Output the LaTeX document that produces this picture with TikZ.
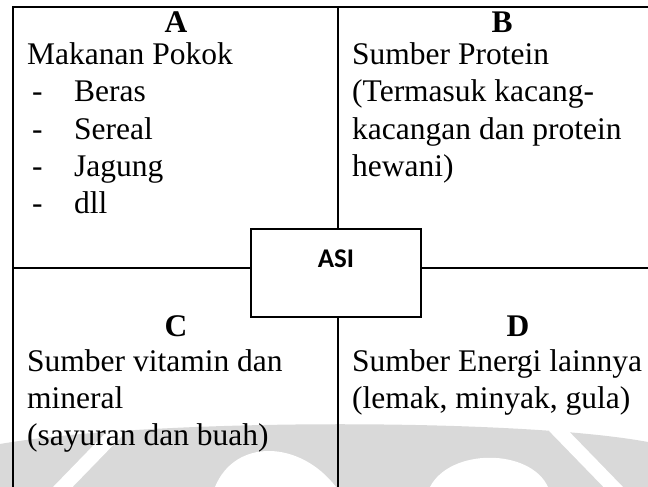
\documentclass[tikz,border=0pt]{standalone}
\usepackage{fontspec}
\setmainfont{Liberation Serif}
\newfontfamily\asifont{Carlito}
\tikzset{
  txt/.style={anchor=base west, inner sep=0pt, font=\fontsize{31.5}{38}\selectfont},
  hdr/.style={anchor=base, inner sep=0pt, font=\fontsize{31.5}{38}\selectfont\bfseries},
  gridline/.style={line width=2pt},
  wm/.style={fill=black!15, draw=none},
  wmcut/.style={fill=white, draw=none},
}
\begin{document}
\begin{tikzpicture}[x=1pt,y=-1pt]
\useasboundingbox (0,0) rectangle (648,487);
% faint watermark
\fill[wm] (0,487) -- (0,444) .. controls (150,418) and (520,418) .. (648,442) -- (648,487) -- cycle;
\draw[white, line width=14pt] (55,495) -- (122,426);
\draw[white, line width=14pt] (621,495) -- (554,426);
\fill[wmcut] (215,487) .. controls (235,438) and (300,440) .. (336,487) -- cycle;
\fill[wmcut] (430,487) .. controls (450,448) and (530,448) .. (548,487) -- cycle;
% frame
\coordinate (tl) at (13,7);
\coordinate (tr) at (648,7);
\coordinate (bl) at (13,487);
\coordinate (vt) at (338,7);
\coordinate (vb) at (338,487);
\coordinate (hl) at (13,268);
\coordinate (hr) at (648,268);
\node[draw, line width=2pt, minimum width=170pt, minimum height=88pt, inner sep=0pt] (asi) at (336,273) {};
\draw[gridline] (bl) -- (tl) -- (tr);
\draw[gridline] (vt) -- (vt |- asi.north);
\draw[gridline] (vb) -- (vb |- asi.south);
\draw[gridline] (hl) -- (asi.west |- hl);
\draw[gridline] (hr) -- (asi.east |- hr);
\node[inner sep=0pt, font=\asifont\bfseries\fontsize{27}{30}\selectfont] (asitxt) at (336,259) {ASI};
% A
\node[hdr] (ha) at (176,33) {A};
\node[txt] (a0) at (27,65) {Makanan Pokok};
\node[txt] (d1) at (32,102) {-};
\node[txt] (a1) at (74,102) {Beras};
\node[txt] (d2) at (32,139) {-};
\node[txt] (a2) at (74,139) {Sereal};
\node[txt] (d3) at (32,176) {-};
\node[txt] (a3) at (74,176) {Jagung};
\node[txt] (d4) at (32,213) {-};
\node[txt] (a4) at (74,213) {dll};
% B
\node[hdr] (hb) at (502,33) {B};
\node[txt] (b0) at (352,65) {Sumber Protein};
\node[txt] (b1) at (352,102) {(Termasuk kacang-};
\node[txt] (b2) at (352,139) {kacangan dan protein};
\node[txt] (b3) at (352,176) {hewani)};
% C
\node[hdr] (hc) at (176,336) {C};
\node[txt] (c0) at (27,371) {Sumber vitamin dan};
\node[txt] (c1) at (27,408) {mineral};
\node[txt] (c2) at (27,445) {(sayuran dan buah)};
% D
\node[hdr] (hd) at (518,336) {D};
\node[txt] (e0) at (352,371) {Sumber Energi lainnya};
\node[txt] (e1) at (352,408) {(lemak, minyak, gula)};
\end{tikzpicture}
\end{document}
